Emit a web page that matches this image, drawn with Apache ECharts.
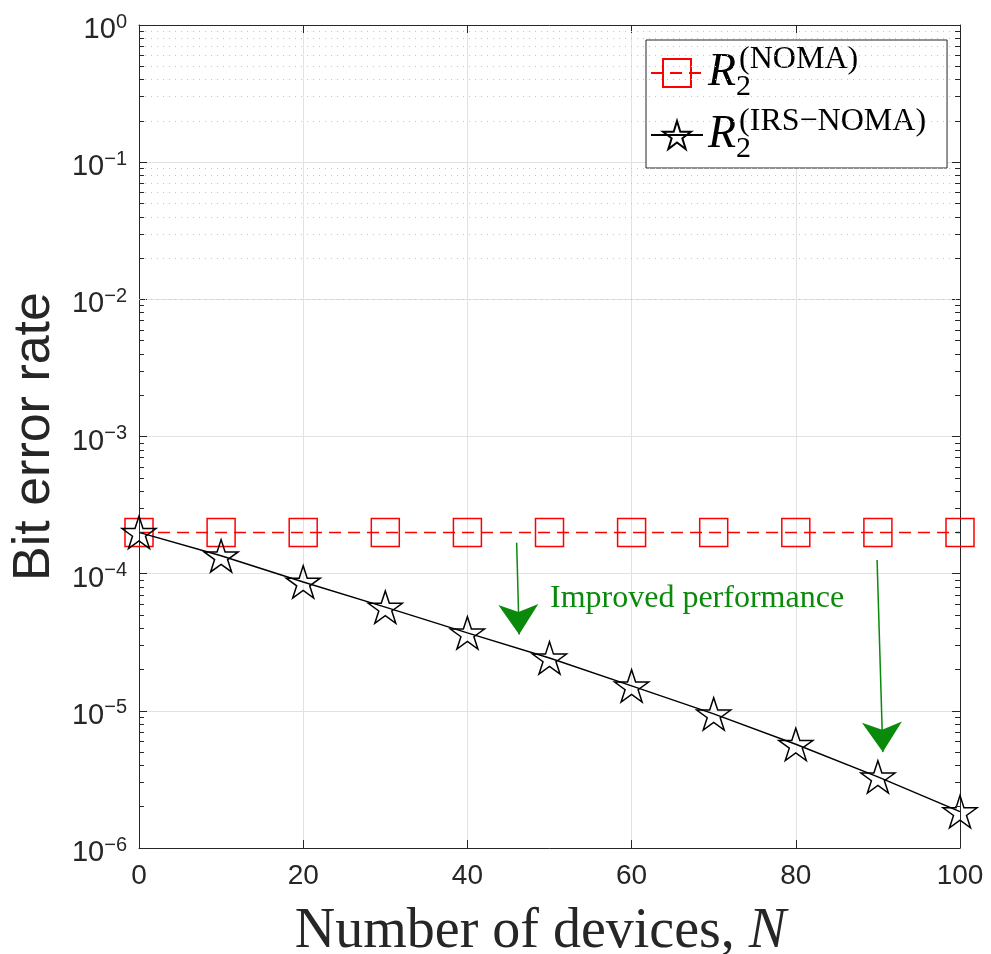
<!DOCTYPE html>
<html><head><meta charset="utf-8">
<script src="https://cdn.jsdelivr.net/npm/echarts@6/dist/echarts.min.js"></script>
<style>html,body{margin:0;padding:0;background:#fff}#c{width:991px;height:954px}</style>
</head><body><div id="c"></div>
<script>
// ---- data ----
const devices = [0, 10, 20, 30, 40, 50, 60, 70, 80, 90, 100];
const berNOMA = [2.0e-4, 2.0e-4, 2.0e-4, 2.0e-4, 2.0e-4, 2.0e-4, 2.0e-4, 2.0e-4, 2.0e-4, 2.0e-4, 2.0e-4];
const berIRS  = [2.0e-4, 1.35e-4, 8.7e-5, 5.7e-5, 3.7e-5, 2.43e-5, 1.52e-5, 9.5e-6, 5.7e-6, 3.3e-6, 1.84e-6];
const xTickStep = 20;
const yMin = 1e-6, yMax = 1;
const seriesNames = ['NOMA', 'IRS-NOMA'];
const legendSup = ['(NOMA)', '(IRS\u2212NOMA)'];
const annotationText = 'Improved performance';
// arrows: [tail, tip] in data coordinates
const arrows = [
  [[46.0, 1.68e-4], [46.3, 3.6e-5]],
  [[89.9, 1.26e-4], [90.6, 5.0e-6]]
];

// minor gridline values (axis decoration)
const minorVals = [];
for (let k = -6; k < 0; k++) for (let m = 2; m <= 9; m++) minorVals.push(m * Math.pow(10, k));

const TXT = '#262626';
const GREEN = '#0a8a0a';
const SANS = 'Liberation Sans, Arial, sans-serif';
const SERIF = 'Liberation Serif, Times New Roman, serif';
const star = 'path://M0,-10 L2.245,-3.09 L9.511,-3.09 L3.633,1.18 L5.878,8.09 L0,3.82 L-5.878,8.09 L-3.633,1.18 L-9.511,-3.09 L-2.245,-3.09 Z';

const chart = echarts.init(document.getElementById('c'), null, {renderer: 'canvas'});

const minorGridData = minorVals.map(v => ({yAxis: v}));
const minorTickData = [];
minorVals.forEach(v => {
  minorTickData.push([{coord: [0, v]}, {coord: [0.6, v]}]);
  minorTickData.push([{coord: [99.4, v]}, {coord: [100, v]}]);
});

const option = {
  animation: false,
  backgroundColor: '#fff',
  grid: {left: 139, right: 31, top: 25, bottom: 106, containLabel: false, outerBoundsMode: 'none'},
  legend: {
    data: seriesNames,
    orient: 'vertical',
    left: 646, top: 40,
    padding: [4, 21, 4, 4],
    itemGap: 4,
    itemWidth: 52, itemHeight: 35,
    borderColor: TXT, borderWidth: 1,
    backgroundColor: '#fff',
    selectedMode: false,
    formatter: name => '{r|R}{s|2}{p|' + legendSup[seriesNames.indexOf(name)] + '}',
    textStyle: {
      rich: {
        r: {fontFamily: SERIF, fontStyle: 'italic', fontSize: 46, lineHeight: 58, color: '#000', verticalAlign: 'middle'},
        s: {fontFamily: SERIF, fontSize: 30, lineHeight: 29, color: '#000', verticalAlign: 'bottom', width: 3},
        p: {fontFamily: SERIF, fontSize: 32, lineHeight: 30, color: '#000', verticalAlign: 'top'}
      }
    }
  },
  xAxis: [{
    type: 'value', min: 0, max: 100, interval: xTickStep, position: 'bottom',
    axisLine: {onZero: false, lineStyle: {color: TXT, width: 1}},
    axisTick: {inside: true, length: 8, lineStyle: {color: TXT}},
    axisLabel: {fontSize: 28, color: TXT, fontFamily: SANS, margin: 14},
    splitLine: {show: true, lineStyle: {color: '#e2e2e2', width: 1}},
    name: '{a|Number of devices, }{i|N}',
    nameLocation: 'middle', nameGap: 56,
    nameTextStyle: {padding: [0, 18, 0, 0], rich: {
      a: {fontFamily: SERIF, fontSize: 56, color: TXT},
      i: {fontFamily: SERIF, fontSize: 56, color: TXT, fontStyle: 'italic'}
    }}
  }, {
    type: 'value', min: 0, max: 100, interval: xTickStep, position: 'top',
    axisLine: {onZero: false, lineStyle: {color: TXT, width: 1}},
    axisTick: {inside: true, length: 8, lineStyle: {color: TXT}},
    axisLabel: {show: false}, splitLine: {show: false}
  }],
  yAxis: [{
    type: 'log', logBase: 10, min: yMin, max: yMax, splitNumber: 6, position: 'left',
    axisLine: {onZero: false, lineStyle: {color: TXT, width: 1}},
    axisTick: {inside: true, length: 8, lineStyle: {color: TXT}},
    axisLabel: {
      margin: 12,
      padding: [10, 0, 0, 0],
      formatter: v => {
        const e = Math.round(Math.log10(v));
        return '{b|10}{s|' + (e < 0 ? '\u2212' + (-e) : e) + '}';
      },
      rich: {
        b: {fontFamily: SANS, fontSize: 29, color: TXT, lineHeight: 36, verticalAlign: 'middle'},
        s: {fontFamily: SANS, fontSize: 20, color: TXT, lineHeight: 20, verticalAlign: 'top'}
      }
    },
    splitLine: {show: true, lineStyle: {color: '#e2e2e2', width: 1}},
    name: 'Bit error rate', nameLocation: 'middle', nameGap: 78,
    nameTextStyle: {fontFamily: SANS, fontSize: 52, color: TXT}
  }, {
    type: 'log', logBase: 10, min: yMin, max: yMax, splitNumber: 6, position: 'right',
    axisLine: {onZero: false, lineStyle: {color: TXT, width: 1}},
    axisTick: {inside: true, length: 8, lineStyle: {color: TXT}},
    axisLabel: {show: false}, splitLine: {show: false}
  }],
  series: [{
    name: 'grid-minor', type: 'line', z: 1, silent: true,
    data: [[devices[0], berNOMA[0]]], symbol: 'none', lineStyle: {width: 0},
    markLine: {
      silent: true, symbol: 'none', label: {show: false}, animation: false,
      lineStyle: {color: '#c4c4c4', type: [1, 5], width: 1},
      emphasis: {disabled: true},
      data: minorGridData
    }
  }, {
    name: 'minor-ticks', type: 'line', z: 1, silent: true,
    data: [[devices[0], berNOMA[0]]], symbol: 'none', lineStyle: {width: 0},
    markLine: {
      silent: true, symbol: 'none', label: {show: false}, animation: false,
      lineStyle: {color: TXT, type: 'solid', width: 1},
      emphasis: {disabled: true},
      data: minorTickData
    }
  }, {
    name: seriesNames[0], type: 'line', z: 3,
    data: devices.map((d, i) => [d, berNOMA[i]]),
    symbol: 'rect', symbolSize: 28,
    lineStyle: {color: '#ff0000', width: 1.5, type: [12, 7]},
    itemStyle: {color: 'transparent', borderColor: '#ff0000', borderWidth: 1.5},
    emphasis: {disabled: true}
  }, {
    name: seriesNames[1], type: 'line', z: 4,
    data: devices.map((d, i) => [d, berIRS[i]]),
    symbol: star, symbolSize: 34, symbolKeepAspect: true,
    lineStyle: {color: '#000', width: 1.5},
    itemStyle: {color: 'transparent', borderColor: '#000', borderWidth: 1.5},
    emphasis: {disabled: true}
  }, {
    name: 'arrows', type: 'line', z: 5, silent: true,
    data: [[devices[0], berNOMA[0]]], symbol: 'none', lineStyle: {width: 0},
    itemStyle: {color: GREEN},
    markLine: {
      silent: true, symbol: ['none', 'arrow'], symbolSize: 30, label: {show: false}, animation: false,
      lineStyle: {color: GREEN, type: 'solid', width: 1.5, opacity: 1},
      emphasis: {disabled: true},
      data: arrows.map(a => [{coord: a[0], symbol: 'none'}, {coord: a[1], symbol: 'arrow', symbolSize: 30}])
    }
  }],
  graphic: [{
    type: 'text', left: 550, top: 583, z: 10, silent: true,
    style: {text: annotationText, fill: GREEN, font: '32px ' + SERIF}
  }]
};
chart.setOption(option);
</script></body></html>
